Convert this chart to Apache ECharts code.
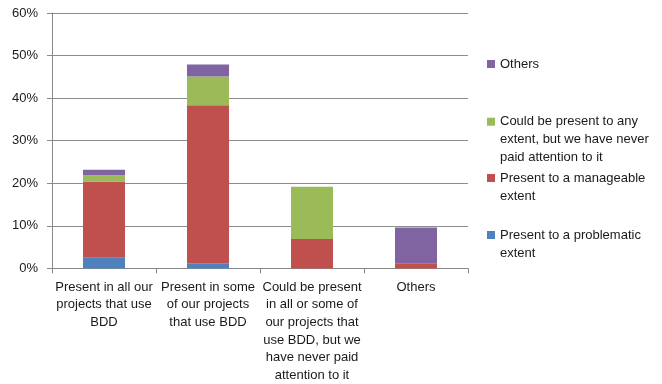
<!DOCTYPE html>
<html>
<head>
<meta charset="utf-8">
<script src="https://cdn.jsdelivr.net/npm/echarts@6/dist/echarts.min.js"></script>
<style>
  html, body { margin: 0; padding: 0; background: #fff; }
  #chart { width: 662px; height: 384px; }
</style>
</head>
<body>
<div id="chart"></div>
<script>
// Category labels (pre-wrapped as they appear under the axis)
const categories = [
  'Present in all our\nprojects that use\nBDD',
  'Present in some\nof our projects\nthat use BDD',
  'Could be present\nin all or some of\nour projects that\nuse BDD, but we\nhave never paid\nattention to it',
  'Others'
];

// Series names
const nameProblematic = 'Present to a problematic extent';
const nameManageable = 'Present to a manageable extent';
const nameNeverPaid = 'Could be present to any extent, but we have never paid attention to it';
const nameOthers = 'Others';

// Percentages per category (stacked bottom to top)
const problematic = [2.5, 1.2, 0, 0];
const manageable = [17.9, 37.1, 6.9, 1.2];
const neverPaid = [1.5, 6.8, 12.3, 0];
const others = [1.3, 2.8, 0, 8.4];

// Y axis ticks
const yTicks = [0, 10, 20, 30, 40, 50, 60];

// Wrapped legend text
const legendText = {};
legendText[nameOthers] = 'Others';
legendText[nameNeverPaid] = 'Could be present to any\nextent, but we have never\npaid attention to it';
legendText[nameManageable] = 'Present to a manageable\nextent';
legendText[nameProblematic] = 'Present to a problematic\nextent';

const FONT = '"Liberation Sans", Arial, sans-serif';
const FONT_SIZE = 13;
const TEXT_COLOR = '#1a1a1a';
const colors = {
  blue: '#4F81BD',
  red: '#C0504D',
  green: '#9BBB59',
  purple: '#8064A2'
};

// Each legend entry gets its own block; blank lines are prepended so the
// swatch lines up with the first text line.
function legendFor(name, top) {
  return {
    data: [name],
    left: 487,
    top: top,
    orient: 'vertical',
    padding: 0,
    itemWidth: 8,
    itemHeight: 8,
    itemGap: 5,
    icon: 'rect',
    selectedMode: false,
    textStyle: { fontFamily: FONT, fontSize: FONT_SIZE, color: TEXT_COLOR, lineHeight: 18 },
    formatter: function (n) {
      const lines = legendText[n].split('\n');
      return '\n'.repeat(lines.length - 1) + legendText[n];
    }
  };
}

function barSeries(name, data, color) {
  return {
    name: name,
    type: 'bar',
    stack: 'total',
    data: data,
    barWidth: 42,
    itemStyle: { color: color },
    emphasis: { disabled: true }
  };
}

const chart = echarts.init(document.getElementById('chart'), null, { renderer: 'canvas' });
chart.setOption({
  animation: false,
  backgroundColor: '#fff',
  grid: { left: 52, right: 194, top: 13, bottom: 115.5, containLabel: false },
  legend: [
    legendFor(nameOthers, 55),
    legendFor(nameNeverPaid, 76.7),
    legendFor(nameManageable, 151),
    legendFor(nameProblematic, 208)
  ],
  xAxis: {
    type: 'category',
    data: categories,
    axisLine: { lineStyle: { color: '#888', width: 1 } },
    axisTick: { show: true, length: 5, interval: 0, alignWithLabel: false, lineStyle: { color: '#888' } },
    axisLabel: {
      interval: 0,
      margin: 10,
      fontFamily: FONT,
      fontSize: FONT_SIZE,
      color: TEXT_COLOR,
      lineHeight: 17.6
    },
    splitLine: { show: false }
  },
  yAxis: {
    type: 'value',
    min: yTicks[0],
    max: yTicks[yTicks.length - 1],
    interval: 10,
    axisLine: { show: true, lineStyle: { color: '#888', width: 1 } },
    axisTick: { show: true, length: 5, lineStyle: { color: '#888' } },
    axisLabel: {
      fontFamily: FONT,
      fontSize: FONT_SIZE,
      color: TEXT_COLOR,
      margin: 14,
      formatter: function (v) { return v + '%'; }
    },
    splitLine: { show: true, lineStyle: { color: '#8c8c8c', width: 1 } }
  },
  series: [
    barSeries(nameProblematic, problematic, colors.blue),
    barSeries(nameManageable, manageable, colors.red),
    barSeries(nameNeverPaid, neverPaid, colors.green),
    barSeries(nameOthers, others, colors.purple)
  ]
});
</script>
</body>
</html>
